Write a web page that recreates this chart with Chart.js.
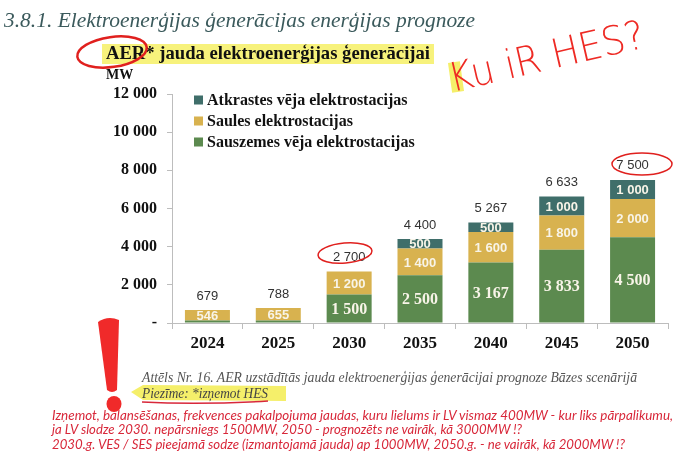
<!DOCTYPE html>
<html>
<head>
<meta charset="utf-8">
<script src="https://cdn.jsdelivr.net/npm/chart.js@4.4.1/dist/chart.umd.min.js"></script>
<style>
  body { margin: 0; background: #fff; width: 680px; height: 456px; overflow: hidden; position: relative; }
  #myChart { position: absolute; left: 0; top: 0; }
  #notes { position: absolute; left: 0; top: 0; }
</style>
</head>
<body>
<canvas id="myChart" width="680" height="456"></canvas>
<svg id="notes" width="680" height="456" xmlns="http://www.w3.org/2000/svg">
  <!-- virsraksti -->
  <text x="4" y="27" font-family="Liberation Serif" font-style="italic" font-size="22" fill="#3b5a5c" textLength="471" lengthAdjust="spacingAndGlyphs">3.8.1. Elektroenerģijas ģenerācijas enerģijas prognoze</text>
  <rect x="102" y="44" width="332" height="20" fill="#f7f27c"/>
  <text x="106" y="59" font-family="Liberation Serif" font-weight="bold" font-size="19" fill="#111" textLength="324" lengthAdjust="spacingAndGlyphs">AER* jauda elektroenerģijas ģenerācijai</text>
  <text x="106" y="79" font-family="Liberation Serif" font-weight="bold" font-size="14" fill="#111">MW</text>

  <!-- paraksts -->
  <text x="142" y="382" font-family="Liberation Serif" font-style="italic" font-size="14" fill="#555" textLength="495" lengthAdjust="spacingAndGlyphs">Attēls Nr. 16. AER uzstādītās jauda elektroenerģijas ģenerācijai prognoze Bāzes scenārijā</text>
  <path d="M131 392 L143 385 L286 386 L286 401 L143 400 Z" fill="#f5ef6a"/>
  <text x="142" y="398" font-family="Liberation Serif" font-style="italic" font-size="14" fill="#444" textLength="126" lengthAdjust="spacingAndGlyphs">Piezīme: *izņemot HES</text>
  <path d="M142 402 Q200 405 268 401" stroke="#d8283a" stroke-width="1.5" fill="none"/>

  <!-- sarkanās piezīmes -->
  <text x="52" y="420" font-family="Lato" font-style="italic" font-size="14" fill="#d8283a" textLength="621" lengthAdjust="spacingAndGlyphs">Izņemot, balansēšanas, frekvences pakalpojuma jaudas, kuru lielums ir LV vismaz 400MW - kur liks pārpalikumu,</text>
  <text x="52" y="434" font-family="Lato" font-style="italic" font-size="14" fill="#d8283a" textLength="470" lengthAdjust="spacingAndGlyphs">ja LV slodze 2030. nepārsniegs 1500MW, 2050 - prognozēts ne vairāk, kā 3000MW !?</text>
  <text x="52" y="449" font-family="Lato" font-style="italic" font-size="14" fill="#d8283a" textLength="573" lengthAdjust="spacingAndGlyphs">2030.g. VES / SES pieejamā sodze (izmantojamā jauda) ap 1000MW, 2050.g. - ne vairāk, kā 2000MW !?</text>

  <!-- izsaukuma zīme -->
  <path d="M98 322 Q108 315 119 320 L117 390 Q112 394 107 390 Z" fill="#f02a2a"/>
  <ellipse cx="114" cy="404" rx="7.5" ry="8" fill="#f02a2a"/>

  <!-- rokraksts -->
  <rect x="450" y="62" width="12" height="30" fill="#f5ef6a" transform="rotate(-8 456 77)"/>
  <text x="452" y="92" font-family="DejaVu Sans" font-weight="300" font-size="40" fill="#ee2a24" transform="rotate(-13 452 92)" textLength="200" lengthAdjust="spacingAndGlyphs">Ku iR HES?</text>

  <!-- apļi -->
  <ellipse cx="112" cy="52" rx="35" ry="15" transform="rotate(-8 112 52)" stroke="#e0201e" stroke-width="2.5" fill="none"/>
  <ellipse cx="345" cy="253" rx="27" ry="10" transform="rotate(-5 345 253)" stroke="#e0201e" stroke-width="1.5" fill="none"/>
  <ellipse cx="642" cy="164" rx="30" ry="11" stroke="#e0201e" stroke-width="1.5" fill="none"/>
</svg>

<script>
const labels = ['2024', '2025', '2030', '2035', '2040', '2045', '2050'];
const onshoreWind = [133, 133, 1500, 2500, 3167, 3833, 4500];
const solar = [546, 655, 1200, 1400, 1600, 1800, 2000];
const offshoreWind = [0, 0, 0, 500, 500, 1000, 1000];
const totals = [679, 788, 2700, 4400, 5267, 6633, 7500];
const yTicks = [0, 2000, 4000, 6000, 8000, 10000, 12000];

function fmt(n) {
  return String(n).replace(/\B(?=(\d{3})+(?!\d))/g, ' ');
}

// leģenda un skaitļi uz stabiņiem
const barLabels = {
  id: 'barLabels',
  afterDatasetsDraw(chart) {
    const ctx = chart.ctx;
    const yScale = chart.scales.y;
    ctx.save();
    ctx.textAlign = 'center';
    ctx.textBaseline = 'middle';
    chart.data.datasets.forEach((ds, i) => {
      const meta = chart.getDatasetMeta(i);
      meta.data.forEach((bar, j) => {
        const v = ds.data[j];
        if (v < 400) return;
        ctx.font = ds.labelFont;
        ctx.fillStyle = '#f8f4e8';
        ctx.fillText(fmt(v), bar.x, (bar.y + bar.base) / 2 + 1);
      });
    });
    const first = chart.getDatasetMeta(0);
    ctx.font = '13px "Liberation Sans"';
    ctx.fillStyle = '#333';
    totals.forEach((t, j) => {
      ctx.fillText(fmt(t), first.data[j].x, yScale.getPixelForValue(t) - 14);
    });

    // leģenda
    ctx.textAlign = 'left';
    ctx.font = 'bold 16px "Liberation Serif"';
    const sets = chart.data.datasets.slice().reverse();
    sets.forEach((ds, k) => {
      const y = 100 + k * 21;
      ctx.fillStyle = ds.backgroundColor;
      ctx.fillRect(194, y - 4.5, 9, 9);
      ctx.fillStyle = '#111';
      ctx.fillText(ds.label, 207, y + 1);
    });
    ctx.restore();
  }
};

const ctx = document.getElementById('myChart').getContext('2d');
const chart = new Chart(ctx, {
  type: 'bar',
  data: {
    labels: labels,
    datasets: [
      { label: 'Sauszemes vēja elektrostacijas', data: onshoreWind, backgroundColor: '#5c8a4f', labelFont: 'bold 16px "Liberation Serif"' },
      { label: 'Saules elektrostacijas', data: solar, backgroundColor: '#d8b24f', labelFont: 'bold 13px "Liberation Sans"' },
      { label: 'Atkrastes vēja elektrostacijas', data: offshoreWind, backgroundColor: '#3f6e6a', labelFont: 'bold 13px "Liberation Sans"' }
    ]
  },
  options: {
    responsive: false,
    animation: false,
    layout: { padding: { top: 94, right: 12, left: 0, bottom: 0 } },
    datasets: { bar: { categoryPercentage: 1, barPercentage: 0.635 } },
    plugins: { legend: { display: false }, tooltip: { enabled: false } },
    scales: {
      x: {
        stacked: true,
        grid: { offset: true, drawOnChartArea: false, drawTicks: true, tickLength: 6, color: '#bdbdbd' },
        border: { color: '#bdbdbd' },
        ticks: { font: { family: 'Liberation Serif', weight: 'bold', size: 17 }, color: '#111', padding: 4 },
        afterFit: s => { s.height = 133; }
      },
      y: {
        stacked: true,
        min: 0,
        max: 12000,
        afterBuildTicks: s => { s.ticks = yTicks.map(v => ({ value: v })); },
        grid: { drawOnChartArea: false, tickLength: 5, color: '#bdbdbd' },
        border: { color: '#bdbdbd' },
        ticks: {
          callback: v => v === 0 ? '-' : fmt(v),
          font: { family: 'Liberation Serif', weight: 'bold', size: 16 },
          color: '#111',
          padding: 10
        },
        afterFit: s => { s.width = 172; }
      }
    }
  },
  plugins: [barLabels]
});
</script>
</body>
</html>
